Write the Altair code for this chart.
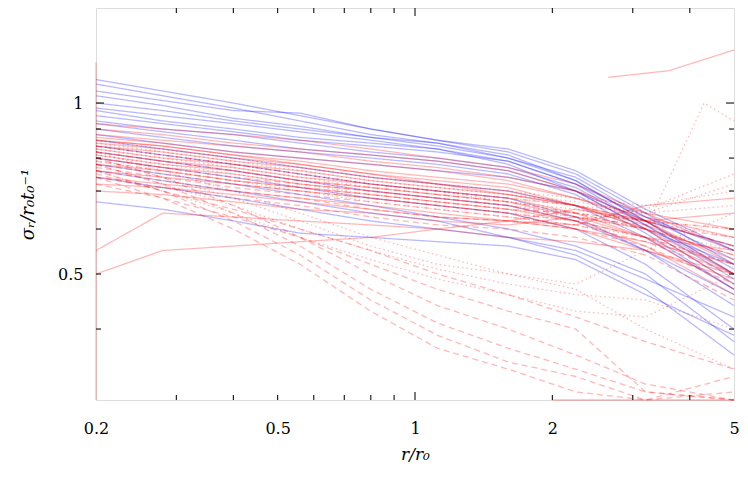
import altair as alt
import pandas as pd

# ---------------- data ----------------
X_GRID = [0.2, 0.28, 0.4, 0.56, 0.8, 1.12, 1.6, 2.25, 3.2, 5.0]

BLUE_SOLID = [
    [1.10, 1.05, 1.00, 0.95, 0.90, 0.86, 0.82, 0.75, 0.64, 0.52],
    [1.08, 1.03, 0.98, 0.93, 0.88, 0.85, 0.80, 0.73, 0.62, 0.50],
    [1.05, 1.01, 0.97, 0.96, 0.90, 0.86, 0.83, 0.76, 0.65, 0.55],
    [1.03, 0.99, 0.94, 0.91, 0.87, 0.84, 0.80, 0.74, 0.63, 0.53],
    [1.00, 0.97, 0.93, 0.90, 0.87, 0.85, 0.81, 0.73, 0.62, 0.51],
    [0.98, 0.95, 0.92, 0.89, 0.86, 0.83, 0.79, 0.72, 0.61, 0.49],
    [0.97, 0.93, 0.90, 0.87, 0.85, 0.83, 0.78, 0.70, 0.60, 0.48],
    [0.95, 0.92, 0.89, 0.86, 0.84, 0.82, 0.79, 0.72, 0.63, 0.55],
    [0.93, 0.90, 0.88, 0.85, 0.82, 0.80, 0.77, 0.71, 0.61, 0.50],
    [0.92, 0.89, 0.86, 0.83, 0.81, 0.79, 0.76, 0.70, 0.60, 0.52],
    [0.90, 0.87, 0.84, 0.82, 0.80, 0.78, 0.75, 0.69, 0.59, 0.47],
    [0.88, 0.85, 0.82, 0.80, 0.78, 0.76, 0.74, 0.70, 0.62, 0.56],
    [0.86, 0.83, 0.80, 0.77, 0.74, 0.72, 0.70, 0.66, 0.58, 0.47],
    [0.84, 0.81, 0.78, 0.75, 0.72, 0.70, 0.68, 0.63, 0.55, 0.46],
    [0.82, 0.79, 0.76, 0.73, 0.70, 0.68, 0.66, 0.62, 0.55, 0.44],
    [0.80, 0.77, 0.74, 0.71, 0.68, 0.66, 0.64, 0.60, 0.52, 0.40],
    [0.78, 0.75, 0.72, 0.69, 0.66, 0.63, 0.60, 0.56, 0.50, 0.38],
    [0.76, 0.73, 0.70, 0.67, 0.64, 0.62, 0.58, 0.54, 0.47, 0.36],
    [0.74, 0.71, 0.68, 0.65, 0.62, 0.60, 0.58, 0.55, 0.49, 0.42],
    [0.67, 0.65, 0.62, 0.59, 0.58, 0.57, 0.56, 0.53, 0.46, 0.39],
]

RED_SOLID = [
    [0.92, 0.90, 0.88, 0.86, 0.83, 0.80, 0.77, 0.72, 0.64, 0.55],
    [0.90, 0.88, 0.85, 0.83, 0.81, 0.79, 0.76, 0.70, 0.62, 0.52],
    [0.88, 0.86, 0.84, 0.82, 0.79, 0.77, 0.74, 0.70, 0.64, 0.60],
    [0.87, 0.85, 0.82, 0.80, 0.78, 0.76, 0.73, 0.68, 0.62, 0.50],
    [0.86, 0.84, 0.81, 0.79, 0.76, 0.74, 0.72, 0.68, 0.63, 0.58],
    [0.85, 0.83, 0.80, 0.78, 0.75, 0.73, 0.71, 0.66, 0.60, 0.48],
    [0.84, 0.82, 0.79, 0.77, 0.74, 0.72, 0.70, 0.66, 0.61, 0.53],
    [0.83, 0.80, 0.78, 0.76, 0.73, 0.71, 0.69, 0.66, 0.62, 0.64],
    [0.82, 0.79, 0.77, 0.74, 0.72, 0.70, 0.68, 0.64, 0.58, 0.47],
    [0.81, 0.78, 0.76, 0.73, 0.71, 0.69, 0.67, 0.63, 0.58, 0.50],
    [0.80, 0.77, 0.75, 0.72, 0.70, 0.68, 0.66, 0.62, 0.56, 0.46],
    [0.78, 0.76, 0.73, 0.71, 0.69, 0.67, 0.65, 0.62, 0.58, 0.55],
    [0.76, 0.74, 0.72, 0.70, 0.68, 0.66, 0.64, 0.60, 0.55, 0.49],
    [0.74, 0.72, 0.70, 0.68, 0.66, 0.64, 0.62, 0.60, 0.57, 0.52],
    [0.72, 0.71, 0.69, 0.67, 0.65, 0.63, 0.62, 0.61, 0.66, 0.68],
    [0.70, 0.69, 0.67, 0.65, 0.64, 0.62, 0.61, 0.63, 0.60, 0.54],
    [0.55, 0.64, 0.63, 0.62, 0.61, 0.60, 0.58, 0.57, 0.55, 0.50],
    [0.50, 0.55, 0.56, 0.57, 0.58, 0.60, 0.62, 0.65, 0.62, 0.56],
]

RED_DASHED = [
    [0.84, 0.81, 0.78, 0.75, 0.72, 0.70, 0.68, 0.66, 0.62, 0.56],
    [0.82, 0.79, 0.76, 0.73, 0.71, 0.69, 0.67, 0.64, 0.60, 0.54],
    [0.80, 0.77, 0.74, 0.72, 0.70, 0.68, 0.66, 0.63, 0.61, 0.58],
    [0.79, 0.76, 0.73, 0.71, 0.69, 0.67, 0.65, 0.64, 0.62, 0.60],
    [0.78, 0.75, 0.72, 0.70, 0.68, 0.66, 0.64, 0.62, 0.58, 0.52],
    [0.77, 0.74, 0.71, 0.69, 0.67, 0.65, 0.63, 0.61, 0.57, 0.50],
    [0.76, 0.73, 0.70, 0.68, 0.65, 0.63, 0.62, 0.60, 0.56, 0.48],
    [0.74, 0.71, 0.68, 0.66, 0.63, 0.61, 0.60, 0.58, 0.54, 0.45],
    [0.80, 0.74, 0.66, 0.58, 0.50, 0.44, 0.40, 0.36, 0.32, 0.30],
    [0.78, 0.72, 0.64, 0.56, 0.47, 0.41, 0.37, 0.34, 0.31, 0.29],
    [0.76, 0.70, 0.62, 0.54, 0.45, 0.39, 0.35, 0.33, 0.30, 0.31],
    [0.74, 0.68, 0.60, 0.52, 0.43, 0.37, 0.34, 0.31, 0.29, 0.33],
    [0.72, 0.68, 0.63, 0.58, 0.52, 0.47, 0.43, 0.40, 0.31, 0.30],
    [0.75, 0.70, 0.65, 0.60, 0.55, 0.50, 0.46, 0.42, 0.38, 0.34],
]

RED_DOTTED = [
    [0.86, 0.83, 0.80, 0.77, 0.74, 0.72, 0.70, 0.68, 0.66, 0.70],
    [0.85, 0.82, 0.79, 0.76, 0.73, 0.71, 0.69, 0.67, 0.64, 0.72],
    [0.84, 0.81, 0.78, 0.75, 0.72, 0.70, 0.68, 0.66, 0.64, 0.66],
    [0.83, 0.80, 0.77, 0.74, 0.71, 0.69, 0.67, 0.65, 0.62, 0.60],
    [0.82, 0.79, 0.76, 0.73, 0.70, 0.68, 0.66, 0.64, 0.62, 0.58],
    [0.81, 0.78, 0.75, 0.72, 0.69, 0.67, 0.65, 0.63, 0.60, 0.55],
    [0.80, 0.77, 0.74, 0.71, 0.68, 0.66, 0.64, 0.62, 0.65, 0.75],
    [0.79, 0.76, 0.73, 0.70, 0.67, 0.65, 0.63, 0.61, 0.58, 0.52],
    [0.80, 0.74, 0.68, 0.62, 0.56, 0.52, 0.50, 0.48, 0.55, 0.64],
    [0.78, 0.72, 0.66, 0.60, 0.55, 0.51, 0.48, 0.46, 0.45, 0.40],
    [0.76, 0.70, 0.64, 0.58, 0.53, 0.49, 0.46, 0.43, 0.42, 0.50],
    [0.82, 0.76, 0.70, 0.64, 0.58, 0.54, 0.50, 0.47, 0.40, 0.34],
]

# special series with their own sample points
RED_TOP_X = [2.65, 3.6, 5.0]
RED_TOP_Y = [1.11, 1.14, 1.24]
RED_EDGE_X = [0.12, 0.16, 0.2, 0.28, 0.4, 0.56, 0.8, 1.12, 1.6, 2.25, 3.2, 5.0]
RED_EDGE_Y = [0.20, 1.18, 0.86, 0.84, 0.81, 0.78, 0.75, 0.72, 0.69, 0.66, 0.60, 0.50]
RED_FLOOR_X = [2.0, 3.2, 5.0]
RED_FLOOR_Y = [0.20, 0.20, 0.20]
DOT_SPIKE_X = [0.2, 0.28, 0.4, 0.56, 0.8, 1.12, 1.6, 2.25, 3.2, 4.3, 5.0]
DOT_SPIKE_Y = [0.84, 0.81, 0.78, 0.75, 0.72, 0.70, 0.67, 0.64, 0.60, 1.00, 0.93]

X_TICKS_MINOR = [0.3, 0.4, 0.5, 0.6, 0.7, 0.8, 0.9, 2, 3, 4]
X_TICKS_MAJOR = [1]
Y_TICKS_MINOR = [0.4, 0.5, 0.6, 0.7, 0.8, 0.9]
Y_TICKS_MAJOR = [1]
X_LABELS = [0.2, 0.5, 1, 2, 5]
Y_LABELS = [0.5, 1]

# ---------------- build long table ----------------
rows = []
sid = 0


def add(kind, xs, ys):
    global sid
    for i, (xv, yv) in enumerate(zip(xs, ys)):
        rows.append({"id": sid, "kind": kind, "i": i, "x": xv, "y": yv})
    sid += 1


for ys in BLUE_SOLID:
    add("blue", X_GRID, ys)
for ys in RED_SOLID:
    add("red", X_GRID, ys)
add("red", RED_TOP_X, RED_TOP_Y)
add("red", RED_EDGE_X, RED_EDGE_Y)
add("red", RED_FLOOR_X, RED_FLOOR_Y)
for ys in RED_DASHED:
    add("dashed", X_GRID, ys)
for ys in RED_DOTTED:
    add("dotted", X_GRID, ys)
add("dotted", DOT_SPIKE_X, DOT_SPIKE_Y)

df = pd.DataFrame(rows)

W, H = 638, 392
FONT = "DejaVu Serif"

xscale = alt.Scale(type="log", domain=[0.2, 5], clamp=True, nice=False)
yscale = alt.Scale(type="log", domain=[0.3, 1.47], clamp=True, nice=False)

lines = alt.Chart(df).mark_line(strokeWidth=1.3, opacity=0.28).encode(
    x=alt.X("x:Q", scale=xscale,
            axis=alt.Axis(values=X_LABELS, format="~g", ticks=False, domain=False,
                          grid=False, labelFont=FONT, labelFontSize=16,
                          labelColor="black", labelPadding=20, labelFlush=False,
                          title="r/r₀", titleFont=FONT, titleFontSize=17,
                          titleFontStyle="italic", titleFontWeight="normal",
                          titleColor="black", titlePadding=10)),
    y=alt.Y("y:Q", scale=yscale,
            axis=alt.Axis(values=Y_LABELS, format="~g", ticks=False, domain=False,
                          grid=False, labelFont=FONT, labelFontSize=16,
                          labelColor="black", labelPadding=13,
                          title="σᵣ/r₀t₀⁻¹", titleFont=FONT, titleFontSize=18,
                          titleFontStyle="italic", titleFontWeight="normal",
                          titleColor="black", titlePadding=20)),
    color=alt.Color("kind:N", scale=alt.Scale(domain=["blue", "red", "dashed", "dotted"],
                                              range=["#0000ff", "#ff0000", "#ff0000", "#ff0000"]),
                    legend=None),
    strokeDash=alt.StrokeDash("kind:N", scale=alt.Scale(domain=["blue", "red", "dashed", "dotted"],
                                                        range=[[1, 0], [1, 0], [6, 4], [1.5, 3]]),
                              legend=None),
    detail="id:N",
    order="i:Q",
)

xt_minor = pd.DataFrame({"tx": X_TICKS_MINOR})
xt_major = pd.DataFrame({"tx": X_TICKS_MAJOR})
yt_minor = pd.DataFrame({"ty": Y_TICKS_MINOR})
yt_major = pd.DataFrame({"ty": Y_TICKS_MAJOR})


def xticks(data, length):
    base = alt.Chart(data).mark_rule(color="#222222", strokeWidth=1.2)
    bottom = base.encode(x=alt.X("tx:Q", scale=xscale), y=alt.value(H), y2=alt.value(H - length))
    top = base.encode(x=alt.X("tx:Q", scale=xscale), y=alt.value(0), y2=alt.value(length))
    return [bottom, top]


def yticks(data, length):
    base = alt.Chart(data).mark_rule(color="#222222", strokeWidth=1.2)
    left = base.encode(y=alt.Y("ty:Q", scale=yscale), x=alt.value(0), x2=alt.value(length))
    right = base.encode(y=alt.Y("ty:Q", scale=yscale), x=alt.value(W), x2=alt.value(W - length))
    return [left, right]


layers = [lines] + xticks(xt_minor, 5) + xticks(xt_major, 8) + yticks(yt_minor, 5) + yticks(yt_major, 8)

chart = alt.layer(*layers).properties(
    width=W, height=H,
    autosize=alt.AutoSizeParams(type="none"),
    padding={"left": 88, "top": 0, "right": 6, "bottom": 70},
).configure_view(stroke="#222222", strokeWidth=1.5).configure(background="white")

chart.save("out.html", embed_options={"renderer": "svg", "actions": False})
